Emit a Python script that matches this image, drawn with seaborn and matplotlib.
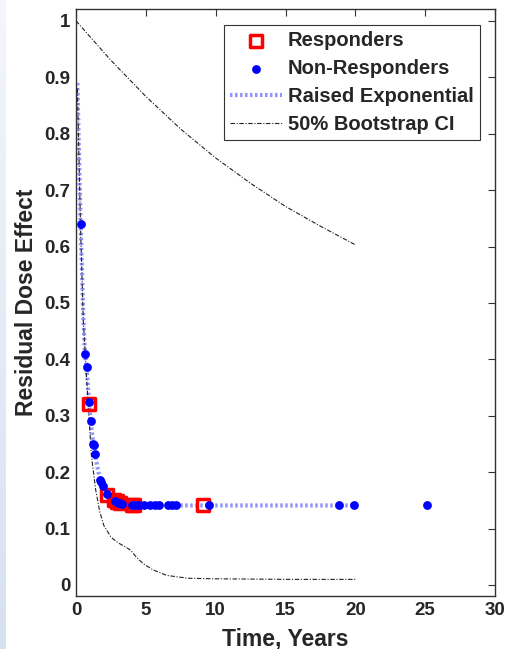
import numpy as np
import pandas as pd
import matplotlib
matplotlib.use("Agg")
import matplotlib.pyplot as plt
import seaborn as sns

# valores
resp_t = [0.93, 2.24, 2.75, 2.95, 3.15, 4.0, 4.15, 9.07]
resp_y = [0.321, 0.160, 0.150, 0.148, 0.146, 0.142, 0.142, 0.142]

nonresp_t = [0.33, 0.64, 0.76, 0.95, 1.05, 1.22, 1.26, 1.36, 1.75, 1.80, 1.90,
             2.20, 2.80, 3.00, 3.15, 3.30, 4.00, 4.20, 4.50, 4.90, 5.30, 5.65,
             5.95, 6.60, 6.85, 7.15, 9.50, 18.8, 19.9, 25.15]
nonresp_y = [0.640, 0.409, 0.387, 0.325, 0.290, 0.250, 0.248, 0.232, 0.186,
             0.182, 0.176, 0.162, 0.149, 0.146, 0.145, 0.144, 0.142, 0.142,
             0.142, 0.142, 0.142, 0.142, 0.142, 0.142, 0.142, 0.142, 0.142,
             0.142, 0.142, 0.142]

fit_t = [0.1, 0.33, 0.52, 0.64, 0.76, 0.93, 1.05, 1.24, 1.36, 1.6, 1.8, 2.0,
         2.3, 2.6, 3.0, 3.5, 4.0, 5.0, 7.0, 10.0, 15.0, 20.0]
fit_y = [0.89, 0.64, 0.48, 0.41, 0.385, 0.325, 0.29, 0.25, 0.232, 0.20, 0.185,
         0.172, 0.160, 0.152, 0.147, 0.144, 0.142, 0.141, 0.141, 0.141, 0.141,
         0.141]

ci_up_t = [0.0, 2.5, 5.0, 7.5, 10.0, 12.5, 15.0, 17.5, 20.0]
ci_up_y = [1.0, 0.93, 0.866, 0.808, 0.757, 0.712, 0.671, 0.636, 0.603]

ci_lo_t = [0.1, 0.33, 0.52, 0.75, 0.95, 1.1, 1.4, 1.7, 2.0, 2.5, 3.0, 3.5,
           3.9, 4.3, 4.8, 5.5, 6.5, 8.0, 10.0, 15.0, 20.0]
ci_lo_y = [0.88, 0.63, 0.47, 0.37, 0.29, 0.23, 0.17, 0.13, 0.105, 0.085,
           0.075, 0.068, 0.062, 0.050, 0.038, 0.027, 0.017, 0.012, 0.011,
           0.010, 0.010]

resp = pd.DataFrame({'t': resp_t, 'y': resp_y})
nonresp = pd.DataFrame({'t': nonresp_t, 'y': nonresp_y})
fit = pd.DataFrame({'t': fit_t, 'y': fit_y})
ci_up = pd.DataFrame({'t': ci_up_t, 'y': ci_up_y})
ci_lo = pd.DataFrame({'t': ci_lo_t, 'y': ci_lo_y})

sns.set_style("white")
plt.rcParams['font.family'] = ['Liberation Sans', 'DejaVu Sans']
plt.rcParams['font.weight'] = 'bold'

fig = plt.figure(figsize=(5.08, 6.49), dpi=100)

# faixa azul clara na borda esquerda
bg = fig.add_axes([0, 0, 6 / 508, 1])
bg.imshow(np.linspace(0, 1, 100).reshape(-1, 1), aspect='auto',
          cmap=matplotlib.colors.LinearSegmentedColormap.from_list('bg', ['#f3f6fb', '#d6e1f2']))
bg.axis('off')

ax = fig.add_axes([76 / 508, 53 / 649, 419 / 508, 587 / 649])

ci_style = (0, (4, 1.5, 1, 1.5))
sns.lineplot(data=fit, x='t', y='y', ax=ax, color=(0.58, 0.58, 1.0), lw=3,
             linestyle=(0, (0.6, 0.6)), sort=False, estimator=None,
             label='Raised Exponential', zorder=2)
sns.lineplot(data=ci_up, x='t', y='y', ax=ax, color='#222222', lw=0.8,
             linestyle=ci_style, sort=False, estimator=None,
             label='50% Bootstrap CI', zorder=3)
sns.lineplot(data=ci_lo, x='t', y='y', ax=ax, color='#222222', lw=0.8,
             linestyle=ci_style, sort=False, estimator=None, zorder=3)
sns.scatterplot(data=resp, x='t', y='y', ax=ax, marker='s', s=75,
                facecolor='none', edgecolor='red', linewidth=2.5,
                label='Responders', zorder=4)
sns.scatterplot(data=nonresp, x='t', y='y', ax=ax, marker='o', s=40,
                color='blue', edgecolor='blue', linewidth=0,
                label='Non-Responders', zorder=5)

ax.set_xlim(0, 30)
ax.set_ylim(-0.0195, 1.021)
ax.set_xticks(range(0, 31, 5))
ax.set_yticks(np.arange(0, 1.01, 0.1))
ax.set_yticklabels(['0', '0.1', '0.2', '0.3', '0.4', '0.5', '0.6', '0.7',
                    '0.8', '0.9', '1'])
ax.tick_params(direction='in', length=5, width=0.8, top=True, right=True,
               labelsize=13.5, pad=4, color='#333333')
for s in ax.spines.values():
    s.set_color('#333333')
    s.set_linewidth(1.0)

ax.set_xlabel('Time, Years', fontsize=16.5, fontweight='bold')
ax.set_ylabel('Residual Dose Effect', fontsize=16.5, fontweight='bold')
ax.xaxis.set_label_coords(0.5, -0.053)
ax.yaxis.set_label_coords(-0.09, 0.5)

h, l = ax.get_legend_handles_labels()
order = [l.index('Responders'), l.index('Non-Responders'),
         l.index('Raised Exponential'), l.index('50% Bootstrap CI')]
leg = ax.legend([h[i] for i in order], [l[i] for i in order],
                loc='upper right', bbox_to_anchor=(0.964, 0.973),
                fontsize=14.5, frameon=True, fancybox=False,
                edgecolor='#333333', framealpha=1, handlelength=2.6,
                handletextpad=0.28, labelspacing=0.45, borderpad=0.3,
                borderaxespad=0)
leg.get_frame().set_linewidth(0.8)

fig.savefig('out.png', dpi=100)
